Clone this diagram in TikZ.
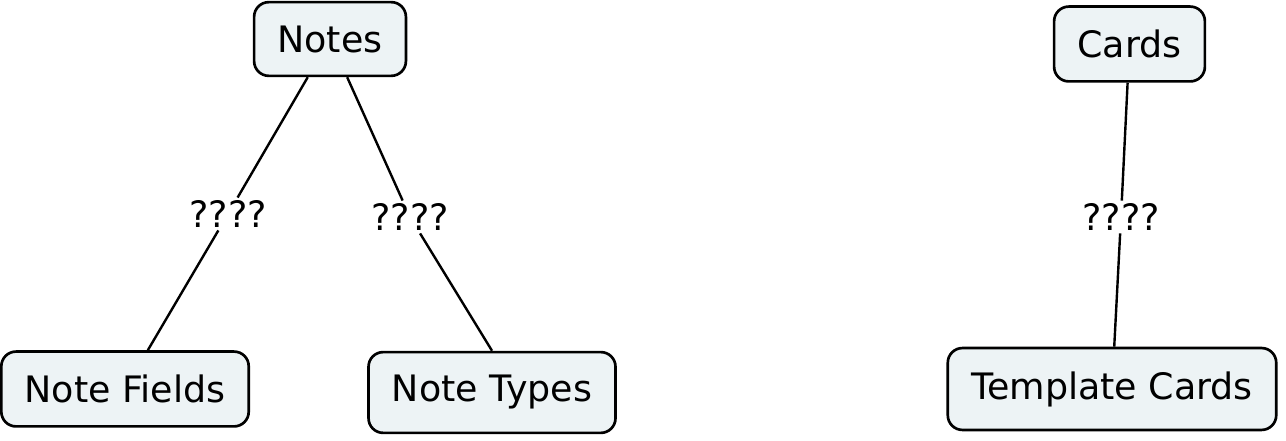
\documentclass[tikz,border=0pt]{standalone}
\usepackage{fontspec}
\setmainfont{DejaVu Sans}
\usepackage{xcolor}

\begin{document}
\begin{tikzpicture}[x=0.75pt,y=0.75pt,yscale=-1,xscale=1,
  concept/.style={draw,line width=2pt,rounded corners=11pt,
    fill={rgb,255:red,237;green,243;blue,245},inner xsep=17.5pt,inner ysep=17.5pt,
    font=\fontsize{27.3}{33}\selectfont},
  linkphrase/.style={inner sep=2pt,font=\fontsize{27.3}{33}\selectfont},
  link/.style={line width=1.8pt}]
\path (0,0) rectangle (1286,441); %set diagram size

\node[concept] (notes) at (330,39) {Notes};
\node[concept] (fields) at (125,389) {Note Fields};
\node[concept] (types) at (492,392.5) {Note Types};
\node[concept] (cards) at (1129.5,44) {Cards};
\node[concept] (tmpl) at (1112,389) {Template Cards};

\node[linkphrase] (lnotesf) at (228,214) {????};
\node[linkphrase] (lnotest) at (410,217) {????};
\node[linkphrase] (lcards) at (1121,217) {????};

\draw[link] (notes) -- (lnotesf) -- (fields);
\draw[link] (notes) -- (lnotest) -- (types.north);
\draw[link] (cards) -- (lcards) -- (tmpl);

\end{tikzpicture}
\end{document}
